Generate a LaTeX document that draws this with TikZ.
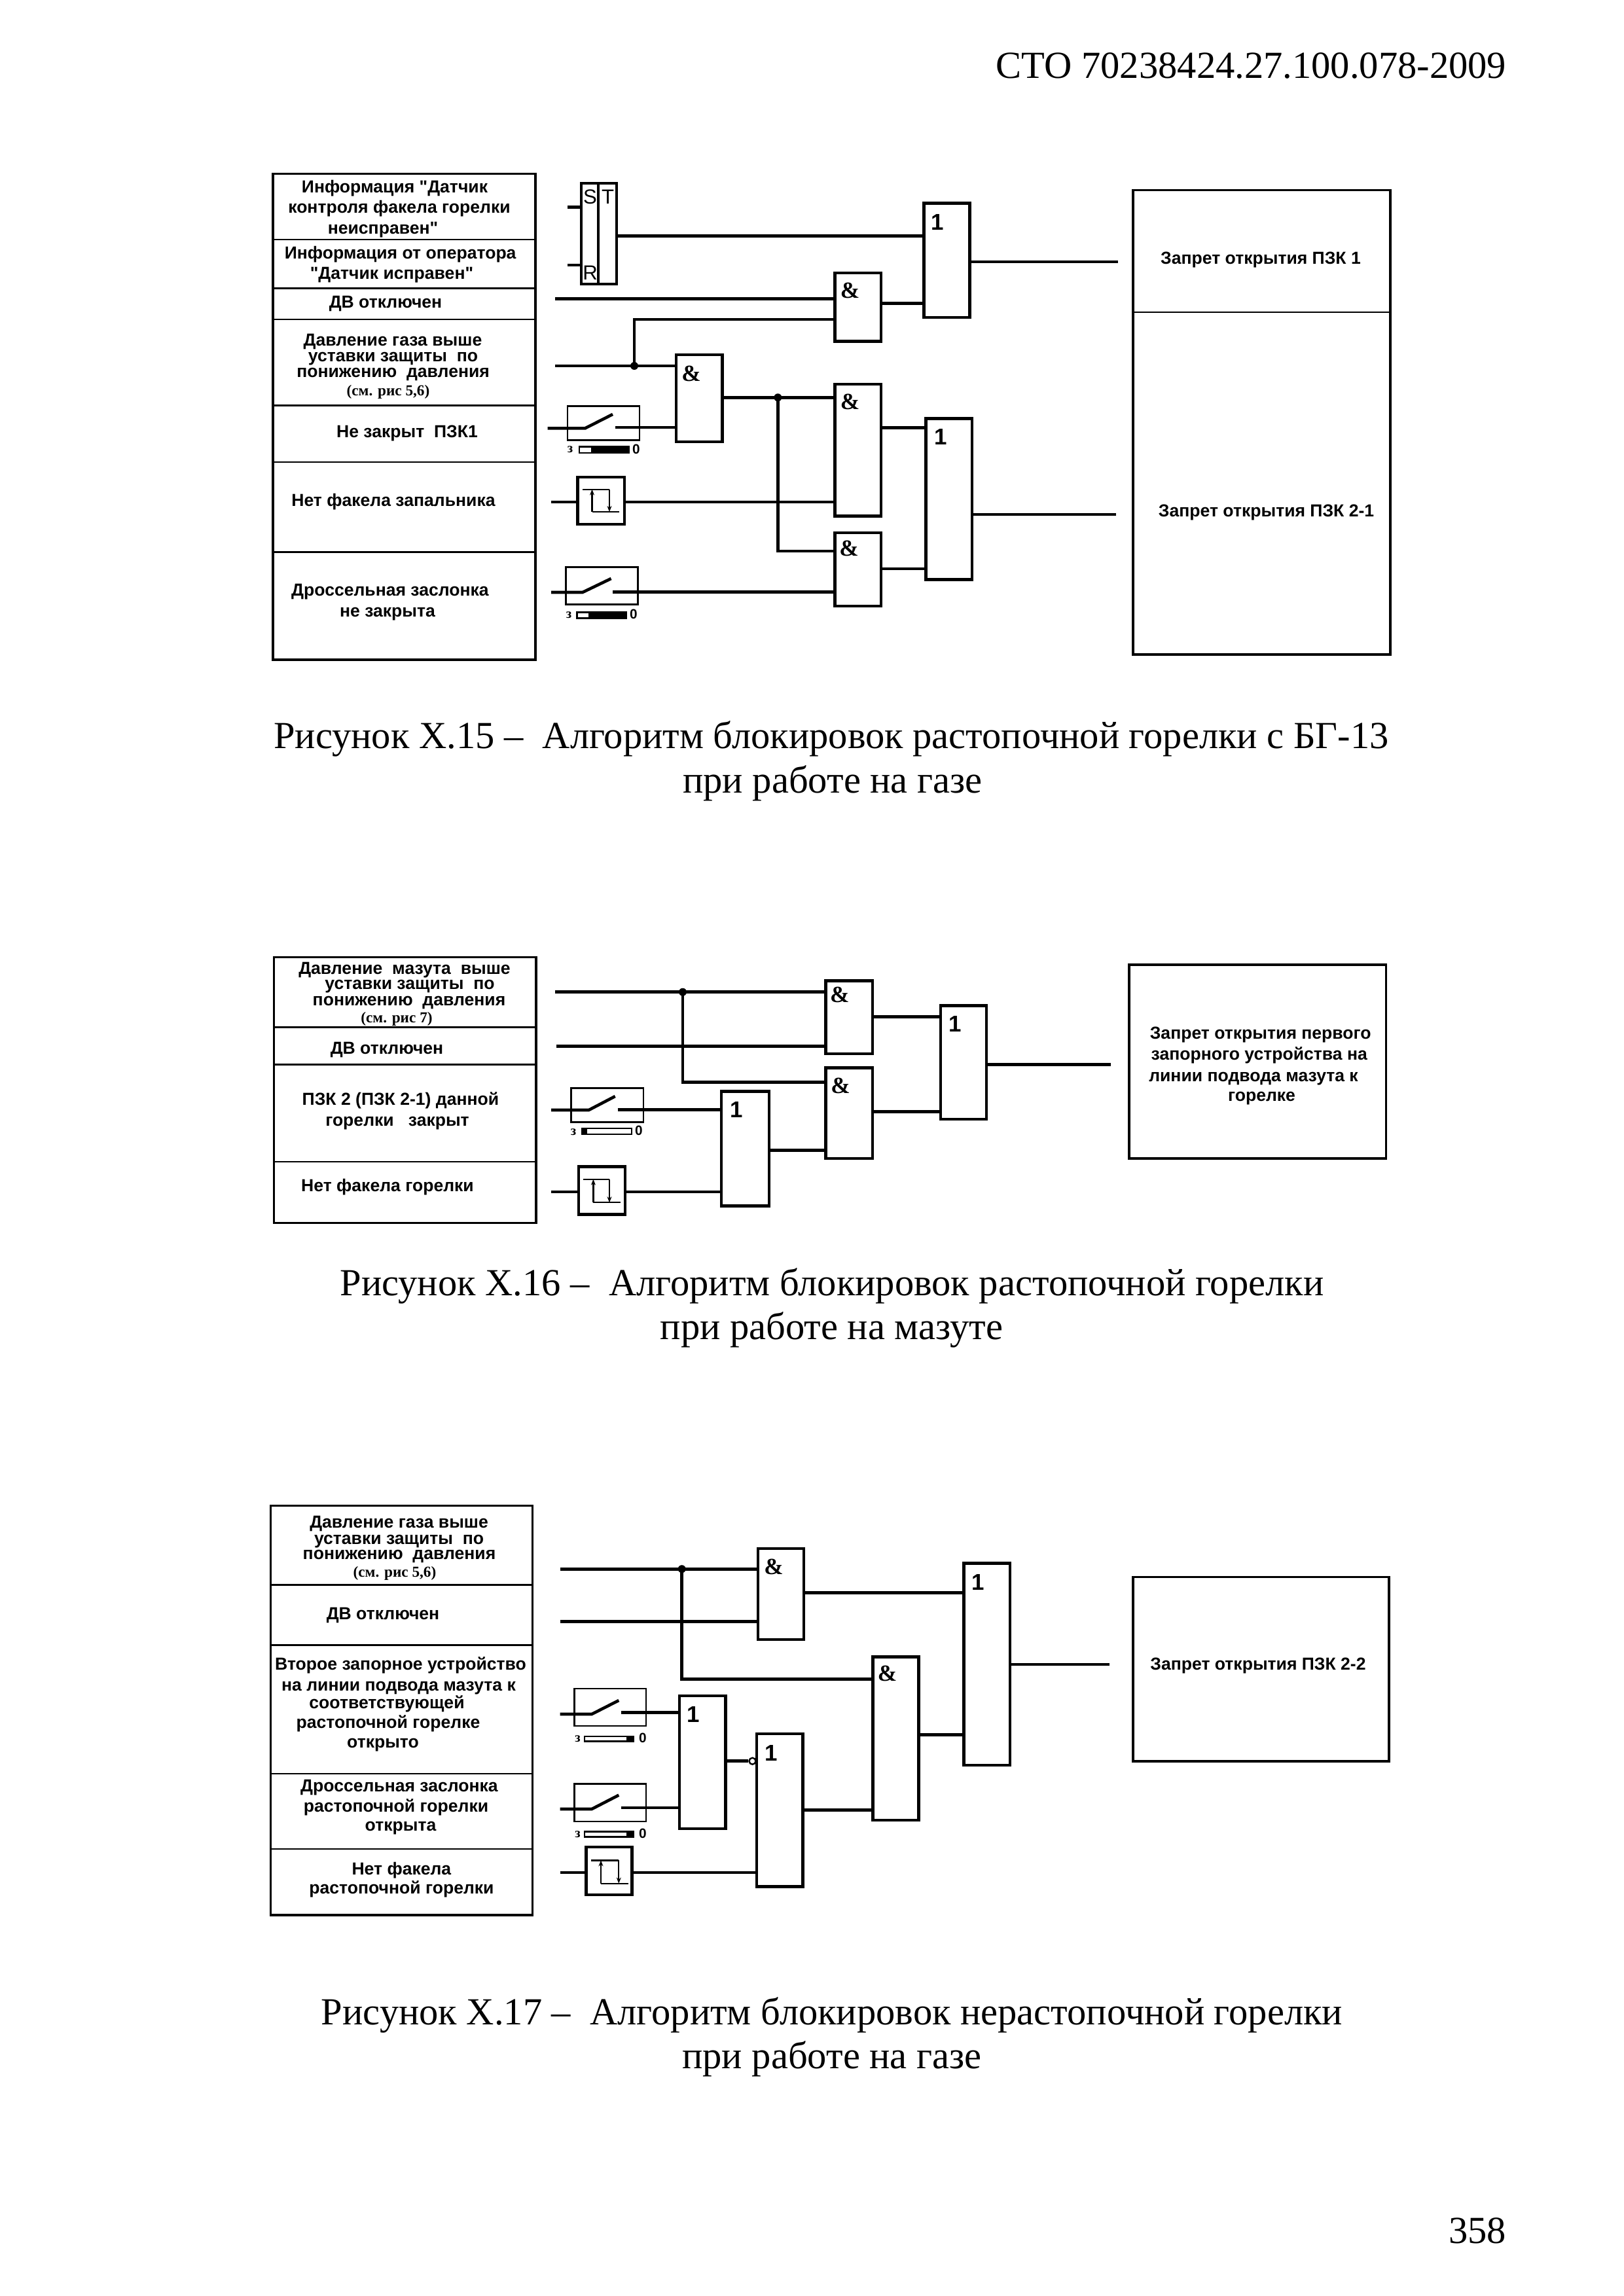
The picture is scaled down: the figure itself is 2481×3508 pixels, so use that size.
\documentclass[tikz,border=0pt]{standalone}
\usepackage{fontspec}
\setmainfont{Liberation Serif}
\newfontfamily\sansreg{Liberation Sans}
\usetikzlibrary{arrows.meta,calc}
\def\uu{0.08467mm}
\tikzset{
 wire/.style={line width=4.6*\uu,line cap=butt},
 thinbox/.style={draw,line width=2.6*\uu,inner sep=0,outer sep=0,fill=none},
 gatebox/.style={draw,line width=4.6*\uu,inner sep=0,outer sep=0,fill=none},
 framebox/.style={draw,line width=3.5*\uu,inner sep=0,outer sep=0,fill=none},
 rowline/.style={line width=2.8*\uu},
 lab/.style={font=\sansreg\bfseries\fontsize{6.4}{7}\selectfont,inner sep=0,anchor=base,yshift=-7.5*\uu},
 smalllab/.style={font=\rmfamily\bfseries\fontsize{5.6}{6}\selectfont,inner sep=0,anchor=base,yshift=-7*\uu},
 amp/.style={font=\rmfamily\bfseries\fontsize{8.5}{9}\selectfont,inner sep=0},
 one/.style={font=\sansreg\bfseries\fontsize{8.4}{9}\selectfont,inner sep=0},
 pin/.style={font=\sansreg\fontsize{7.5}{8}\selectfont,inner sep=0},
 tiny3/.style={font=\rmfamily\bfseries\fontsize{5}{5}\selectfont,inner sep=0},
 tiny0/.style={font=\sansreg\bfseries\fontsize{5}{5}\selectfont,inner sep=0},
 caption/.style={font=\rmfamily\fontsize{14.1}{16}\selectfont,inner sep=0,anchor=base},
 arr/.style={line width=2.2*\uu,-{Stealth[length=9*\uu,width=7*\uu]}},
 symline/.style={line width=2.2*\uu},
 dot/.style={circle,fill=black,draw=none,minimum size=12*\uu,inner sep=0},
 bubble/.style={circle,fill=white,draw,line width=2.4*\uu,minimum size=10*\uu,inner sep=0},
}
% style,name,x1,y1,x2,y2
\newcommand{\rectnode}[6]{%
 \pgfmathsetmacro\rw{#5-#3}\pgfmathsetmacro\rh{#6-#4}%
 \pgfmathsetmacro\rx{(#5+#3)/2}\pgfmathsetmacro\ry{(#6+#4)/2}%
 \node[#1,minimum width=\rw*\uu,minimum height=\rh*\uu] (#2) at (\rx,\ry) {};}
% name,x1,y1,x2,y2,labelstyle,text,lx,ly
\newcommand{\gate}[9]{\rectnode{gatebox}{#1}{#2}{#3}{#4}{#5}\node[#6] (#1l) at (#8,#9) {#7};}
\newcommand{\lab}[4]{\node[lab] (#1) at (#2,#3) {#4};}
\newcommand{\slab}[4]{\node[smalllab] (#1) at (#2,#3) {#4};}
% name,x1,y1,x2,y2, inx,iny, hingex, tipx,tipy, outx,outy
\newcommand{\sw}[9]{\rectnode{thinbox}{#1}{#2}{#3}{#4}{#5}%
 \coordinate (#1in) at (#6,#7);\coordinate (#1h) at (#8,#7);\def\swname{#1}\swrest#9}
\newcommand{\swrest}[4]{\coordinate (\swname t) at (#1,#2);\coordinate (\swname out) at (#3,#4);
 \draw[wire] (\swname in) -- (\swname h) -- (\swname t);}
% name, x1,x2,y1,y2, wx1,wx2 (white part), 3x,0x
\newcommand{\scbar}[9]{%
 \fill[black] (#2,#4) rectangle (#3,#5);
 \fill[white] (#6,#4+2.5) rectangle (#7,#5-2.5);
 \node[tiny3] (#1a) at (#8,{(#4+#5)/2}) {з};
 \node[tiny0] (#1b) at (#9,{(#4+#5)/2-1}) {0};}
% name,x1,y1,x2,y2 then top,bot,a,b
\newcommand{\relay}[9]{\rectnode{gatebox}{#1}{#2}{#3}{#4}{#5}%
 \def\rlT{#6}\def\rlB{#7}\def\rlA{#8}\def\rlR{#9}\relayrest}
\newcommand{\relayrest}[2]{%
 \draw[symline] (\rlA,\rlT) -- (\rlR,\rlT);
 \draw[arr] (\rlR,\rlT) -- (\rlR,\rlB);
 \draw[arr] (#1,\rlB) -- (#1,\rlT);
 \draw[symline] (#1,\rlB) -- (#2,\rlB);}
\begin{document}
\begin{tikzpicture}[x=\uu,y=-\uu]
\useasboundingbox (0,0) rectangle (2481,3508);
\fill[white] (0,0) rectangle (2481,3508);
\node[caption,anchor=base east] (hdr) at (2302,119) {СТО 70238424.27.100.078-2009};
\node[caption,anchor=base east] (pg) at (2302,3427) {358};

%% ===== Figure 15 =====
\rectnode{framebox}{tA}{417}{265.5}{818}{1008}
\foreach \yy in {366,440.5,488,619.6,706,843.6} \draw[rowline] (417,\yy) -- (818,\yy);
\lab{a1}{603}{287}{Информация "Датчик}
\lab{a2}{610}{318}{контроля факела горелки}
\lab{a3}{585}{350}{неисправен"}
\lab{a4}{611.6}{388}{Информация от оператора}
\lab{a5}{598.5}{418.6}{"Датчик исправен"}
\lab{a6}{589}{463}{ДВ отключен}
\lab{a7}{600}{520.6}{Давление газа выше}
\lab{a8}{600.5}{544.6}{уставки защиты\ \ по}
\lab{a9}{600.6}{569}{понижению\ \ давления}
\slab{a10}{593}{597}{(см. рис 5,6)}
\lab{a11}{622}{661}{Не закрыт\ \ ПЗК1}
\lab{a12}{601}{765.5}{Нет факела запальника}
\lab{a13}{596}{903}{Дроссельная заслонка}
\lab{a14}{592}{935}{не закрыта}

\rectnode{gatebox}{rs}{888}{280}{942}{434}
\draw[gatebox] (914,280) -- (914,434);
\node[pin] (rsS) at (901.5,301) {S};
\node[pin] (rsT) at (928.5,301) {T};
\node[pin] (rsR) at (901.5,417) {R};
\gate{gA}{1033}{542}{1103.5}{675}{amp}{\&}{1056}{570.6}
\gate{gB}{1275.6}{417}{1345.8}{521.6}{amp}{\&}{1298.6}{444}
\gate{gC}{1275.6}{587}{1345.8}{788.5}{amp}{\&}{1298.6}{614}
\gate{gD}{1275.6}{814}{1345.8}{926}{amp}{\&}{1297}{838}
\gate{oA}{1411.5}{310.4}{1481.6}{485}{one}{1}{1432.5}{339.5}
\gate{oB}{1414.7}{639.5}{1484.8}{885.4}{one}{1}{1437}{667.5}
\rectnode{framebox}{rA}{1731}{290.5}{2124}{1000}
\draw[rowline] (1731,477) -- (2124,477);
\lab{ra1}{1926}{395.6}{Запрет открытия ПЗК 1}
\lab{ra2}{1934.6}{782}{Запрет открытия ПЗК 2-1}

\coordinate (i1) at (867,316.5);
\coordinate (i2) at (867,405);
\coordinate (i3) at (848,456.3);
\coordinate (i4) at (848,559);
\coordinate (j4) at (969,559);
\coordinate (j4b) at (969,488);
\coordinate (q1) at (1708,400);
\coordinate (q2) at (1705,786);
\draw[wire] (i1) -- (i1 -| rs.west);
\draw[wire] (i2) -- (i2 -| rs.west);
\coordinate (rsout) at (942,360.4);
\draw[wire] (rsout) -- (rsout -| oA.west);
\draw[wire] (i3) -- (i3 -| gB.west);
\draw[wire] (i4) -- (i4 -| gA.west);
\draw[wire,line join=miter] (j4) -- (j4b) -- (j4b -| gB.west);
\node[dot] (d1) at (j4) {};
\coordinate (gBo) at (1345.8,463.5);
\draw[wire] (gBo) -- (gBo -| oA.west);
\draw[wire] (oA.east |- q1) -- (q1);

\sw{sA}{867}{620.6}{977}{672.6}{836.6}{654.3}{894}{{936}{633}{940}{653}}
\draw[wire] (sAout) -- (sAout -| gA.west);
\scbar{bA}{883.6}{961.6}{681}{693}{886}{903}{871}{972}
\relay{rlA}{882.5}{729}{954}{801}{747.6}{782}{890}{931}{904.5}{946}
\coordinate (r1) at (842,767);
\draw[wire] (r1) -- (r1 -| rlA.west);
\draw[wire] (rlA.east |- r1) -- (r1 -| gC.west);
\sw{sB}{864.7}{866.5}{974.4}{923.7}{842}{905}{890}{{933.6}{884}{936}{904.3}}
\draw[wire] (sBout) -- (sBout -| gD.west);
\scbar{bB}{880}{957.5}{934}{945.6}{882.5}{899.4}{869}{968}

\coordinate (gAo) at (1103.5,607.3);
\coordinate (j5) at (1188.3,607.3);
\coordinate (j5b) at (1188.3,842);
\draw[wire] (gAo) -- (gAo -| gC.west);
\draw[wire] (j5) -- (j5b) -- (j5b -| gD.west);
\node[dot] (d2) at (j5) {};
\coordinate (gCo) at (1345.8,653.3);
\coordinate (gDo) at (1345.8,869);
\draw[wire] (gCo) -- (gCo -| oB.west);
\draw[wire] (gDo) -- (gDo -| oB.west);
\draw[wire] (oB.east |- q2) -- (q2);

\node[caption] (c1a) at (1270,1143.3) {Рисунок Х.15 --\ \ Алгоритм блокировок растопочной горелки с БГ-13};
\node[caption] (c1b) at (1272,1211) {при работе на газе};

%% ===== Figure 16 =====
\rectnode{framebox}{tB}{418.5}{1462.3}{819}{1868.3}
\foreach \yy in {1569.3,1626.7,1775} \draw[rowline] (418.5,\yy) -- (819,\yy);
\lab{b1}{618}{1480.7}{Давление\ \ мазута\ \ выше}
\lab{b2}{626}{1504}{уставки защиты\ \ по}
\lab{b3}{625}{1528.7}{понижению\ \ давления}
\slab{b4}{606}{1555}{(см. рис 7)}
\lab{b5}{591}{1602.7}{ДВ отключен}
\lab{b6}{612}{1680.7}{ПЗК 2 (ПЗК 2-1) данной}
\lab{b7}{607}{1713.3}{горелки\ \ \ закрыт}
\lab{b8}{592}{1812.7}{Нет факела горелки}

\gate{gE}{1261.6}{1498.3}{1333}{1610}{amp}{\&}{1282.7}{1520}
\gate{gF}{1261.6}{1631.7}{1333}{1770}{amp}{\&}{1284}{1659}
\gate{oC}{1102}{1667.3}{1175}{1842.7}{one}{1}{1125}{1695}
\gate{oD}{1437}{1536.7}{1507}{1710}{one}{1}{1459}{1564.3}
\rectnode{framebox}{rB}{1725}{1474}{2117.5}{1770}
\lab{rb1}{1925.7}{1580}{Запрет открытия первого}
\lab{rb2}{1923.8}{1612.3}{запорного устройства на}
\lab{rb3}{1915}{1645}{линии подвода мазута к}
\lab{rb4}{1927.5}{1675}{горелке}

\coordinate (k1) at (848,1515.7);
\coordinate (k2) at (849.6,1598.3);
\coordinate (j6) at (1043,1515.7);
\coordinate (j6b) at (1043,1653.7);
\draw[wire] (k1) -- (k1 -| gE.west);
\draw[wire] (k2) -- (k2 -| gE.west);
\draw[wire] (j6) -- (j6b) -- (j6b -| gF.west);
\node[dot] (d3) at (j6) {};
\sw{sC}{872.5}{1662.3}{983}{1714.3}{842}{1696}{899.5}{{939.7}{1675}{943.7}{1695.3}}
\draw[wire] (sCout) -- (sCout -| oC.west);
\fill[black] (888,1722.7) rectangle (965.5,1734);
\fill[white] (896.7,1725.2) rectangle (963.5,1731.5);
\node[tiny3] (bCa) at (876,1729.3) {з};
\node[tiny0] (bCb) at (976,1727.7) {0};
\relay{rlB}{884}{1782.3}{955}{1855.7}{1801.7}{1837.3}{891}{931}{906.4}{948.3}
\coordinate (r2) at (842,1821);
\draw[wire] (r2) -- (r2 -| rlB.west);
\draw[wire] (rlB.east |- r2) -- (r2 -| oC.west);
\coordinate (oCo) at (1175,1757.3);
\draw[wire] (oCo) -- (oCo -| gF.west);
\coordinate (gEo) at (1333,1553.3);
\coordinate (gFo) at (1333,1698.3);
\coordinate (q3) at (1697,1626.3);
\draw[wire] (gEo) -- (gEo -| oD.west);
\draw[wire] (gFo) -- (gFo -| oD.west);
\draw[wire] (oD.east |- q3) -- (q3);

\node[caption] (c2a) at (1271,1979.3) {Рисунок Х.16 --\ \ Алгоритм блокировок растопочной горелки};
\node[caption] (c2b) at (1270.5,2046.7) {при работе на мазуте};

%% ===== Figure 17 =====
\rectnode{framebox}{tC}{413.7}{2300.4}{813.7}{2926}
\foreach \yy in {2421.8,2513.3,2710,2825} \draw[rowline] (413.7,\yy) -- (813.7,\yy);
\lab{d1t}{609.6}{2326.8}{Давление газа выше}
\lab{d2t}{609.6}{2351.6}{уставки защиты\ \ по}
\lab{d3t}{610}{2375.4}{понижению\ \ давления}
\slab{d4t}{603}{2402.7}{(см. рис 5,6)}
\lab{d5t}{585}{2467.3}{ДВ отключен}
\lab{d6t}{612}{2543.7}{Второе запорное устройство}
\lab{d7t}{609}{2575.7}{на линии подвода мазута к}
\lab{d8t}{591}{2603}{соответствующей}
\lab{d9t}{593}{2633.4}{растопочной горелке}
\lab{d10t}{585}{2663}{открыто}
\lab{d11t}{610}{2730}{Дроссельная заслонка}
\lab{d12t}{605}{2761.3}{растопочной горелки}
\lab{d13t}{612}{2789.5}{открыта}
\lab{d14t}{613.4}{2856.7}{Нет факела}
\lab{d15t}{613.4}{2886}{растопочной горелки}

\gate{gG}{1157.8}{2366}{1228}{2505}{amp}{\&}{1182}{2393.6}
\gate{gH}{1333.4}{2531.4}{1403.7}{2781}{amp}{\&}{1355.5}{2557.4}
\gate{oE}{1038}{2591}{1108.6}{2794}{one}{1}{1059.6}{2619}
\gate{oF}{1155.8}{2649}{1226.7}{2882.7}{one}{1}{1178.5}{2678.7}
\gate{oG}{1472.6}{2388.6}{1542.8}{2697}{one}{1}{1494.6}{2417.7}
\rectnode{framebox}{rC}{1730.8}{2409.7}{2122}{2691}
\lab{rc1}{1922}{2544}{Запрет открытия ПЗК 2-2}

\coordinate (m1) at (855.5,2397.2);
\coordinate (m2) at (855.5,2477.5);
\coordinate (j7) at (1041.7,2397.2);
\coordinate (j7b) at (1041.7,2565.5);
\draw[wire] (m1) -- (m1 -| gG.west);
\draw[wire] (m2) -- (m2 -| gG.west);
\draw[wire] (j7) -- (j7b) -- (j7b -| gH.west);
\node[dot] (d4) at (j7) {};
\sw{sD}{877.5}{2580}{987}{2637}{855.5}{2619}{904}{{945.3}{2598}{949}{2616.5}}
\draw[wire] (sDout) -- (sDout -| oE.west);
\scbar{bD}{891.7}{969}{2651.6}{2661.6}{894}{956.5}{882.5}{982}
\sw{sE}{877.5}{2725.4}{987}{2783}{855.5}{2764}{904}{{945.3}{2742.7}{949}{2762}}
\draw[wire] (sEout) -- (sEout -| oE.west);
\scbar{bE}{891.7}{969}{2797.3}{2807.8}{894}{956.5}{882.5}{982}
\relay{rlC}{895.3}{2822}{965.7}{2895}{2842.4}{2877.6}{903}{945.3}{918}{960}
\coordinate (r3) at (855.5,2861);
\draw[wire] (r3) -- (r3 -| rlC.west);
\draw[wire] (rlC.east |- r3) -- (r3 -| oF.west);
\coordinate (oEo) at (1108.6,2690.7);
\node[bubble] (bb) at (1149.5,2690.7) {};
\draw[wire] (oEo) -- (bb.west);
\coordinate (gGo) at (1228,2433.4);
\coordinate (gHo) at (1403.7,2650.4);
\coordinate (oFo) at (1226.7,2765.6);
\coordinate (q4) at (1695,2543);
\draw[wire] (gGo) -- (gGo -| oG.west);
\draw[wire] (gHo) -- (gHo -| oG.west);
\draw[wire] (oFo) -- (oFo -| gH.west);
\draw[wire] (oG.east |- q4) -- (q4);

\node[caption] (c3a) at (1271,3093.3) {Рисунок Х.17 --\ \ Алгоритм блокировок нерастопочной горелки};
\node[caption] (c3b) at (1271,3160.7) {при работе на газе};
\end{tikzpicture}
\end{document}
